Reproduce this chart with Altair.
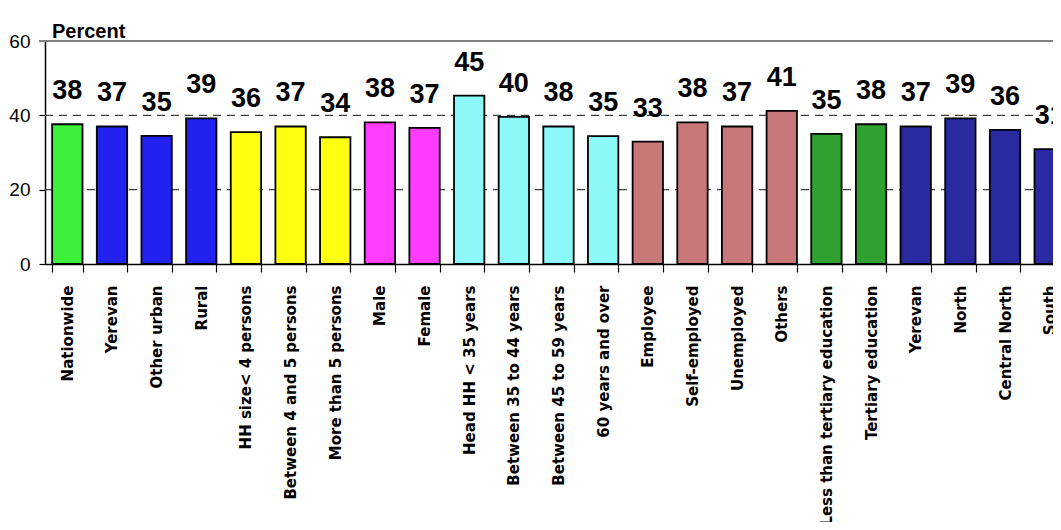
import altair as alt
import pandas as pd

categories = ["Nationwide", "Yerevan", "Other urban", "Rural", "HH size< 4 persons",
              "Between  4 and  5 persons", "More than 5 persons", "Male", "Female",
              "Head HH  < 35 years", "Between  35 to 44 years", "Between  45 to 59 years",
              "60 years and  over", "Employee", "Self-employed", "Unemployed", "Others",
              "Less than tertiary education", "Tertiary education", "Yerevan ", "North",
              "Central North", "South"]
bar_values = [37.6, 37.0, 34.5, 39.2, 35.5, 37.0, 34.1, 38.1, 36.6, 45.3, 39.6, 37.0,
              34.4, 32.9, 38.1, 37.0, 41.2, 35.0, 37.6, 37.0, 39.2, 36.1, 30.9]
labels = ["38", "37", "35", "39", "36", "37", "34", "38", "37", "45", "40", "38",
          "35", "33", "38", "37", "41", "35", "38", "37", "39", "36", "31"]
colors = ["#3cf03c", "#2222f0", "#2222f0", "#2222f0", "#ffff10", "#ffff10", "#ffff10",
          "#ff3cff", "#ff3cff", "#8cf8f8", "#8cf8f8", "#8cf8f8", "#8cf8f8",
          "#c87878", "#c87878", "#c87878", "#c87878", "#30a030", "#30a030",
          "#2a2aa0", "#2a2aa0", "#2a2aa0", "#2a2aa0"]
grid_values = [20, 40]
top_value = [60]
y_ticks = [0, 20, 40, 60]

df = pd.DataFrame({"cat": categories, "val": bar_values, "lab": labels, "col": colors})
grid_df = pd.DataFrame({"g": grid_values})
top_df = pd.DataFrame({"g": top_value})

NARROW = "Liberation Sans Narrow, Arial Narrow, Liberation Sans"

xscale = alt.Scale(paddingInner=0.32, paddingOuter=0.16, range=[0, 1027])
xenc = alt.X("cat:N", sort=categories, title=None, scale=xscale,
             axis=alt.Axis(labelAngle=270, labelFont="DejaVu Sans", labelFontWeight="bold",
                           labelFontSize=15, labelColor="black", labelLimit=0,
                           labelPadding=13, tickBand="extent", tickSize=8,
                           tickColor="black", domainColor="black", domainWidth=1.5,
                           tickWidth=1.2))
yscale = alt.Scale(domain=[0, 60], nice=False)
yenc = alt.Y("val:Q", title=None, scale=yscale,
             axis=alt.Axis(values=y_ticks, grid=False, labelFont=NARROW,
                           labelFontSize=19, labelColor="black", labelPadding=9,
                           tickSize=6, tickColor="black", domainColor="black",
                           domainWidth=1.5, tickWidth=1.2))

grid = alt.Chart(grid_df).mark_rule(color="#404040", strokeDash=[8, 6], strokeWidth=1.2).encode(
    y=alt.Y("g:Q", scale=yscale, title=None), x=alt.value(0), x2=alt.value(1100))
top = alt.Chart(top_df).mark_rule(color="#808080", strokeWidth=2).encode(
    y=alt.Y("g:Q", scale=yscale, title=None), x=alt.value(-6), x2=alt.value(1100))

bars = alt.Chart(df).mark_bar(stroke="black", strokeWidth=1.8).encode(
    x=xenc, y=yenc, color=alt.Color("col:N", scale=None))

text = alt.Chart(df).mark_text(font=NARROW, fontWeight="bold",
                               fontSize=27, baseline="alphabetic", dy=-25, color="black").encode(
    x=alt.X("cat:N", sort=categories, scale=xscale), y=alt.Y("val:Q", scale=yscale), text="lab:N")

title = alt.Chart(pd.DataFrame({"t": ["Percent"]})).mark_text(
    font="Liberation Sans", fontWeight="bold", fontSize=20, align="left",
    baseline="alphabetic", color="black").encode(
    x=alt.value(7), y=alt.value(-3), text="t:N")

chart = alt.layer(grid, top, bars, text, title).properties(
    width=1008, height=223,
    autosize=alt.AutoSizeParams(type="none"),
    padding={"left": 37, "top": 33, "right": 0, "bottom": 258},
).configure_view(stroke=None, clip=False).configure(background="white")

chart.save("out.html", embed_options={"renderer": "svg", "actions": False})
